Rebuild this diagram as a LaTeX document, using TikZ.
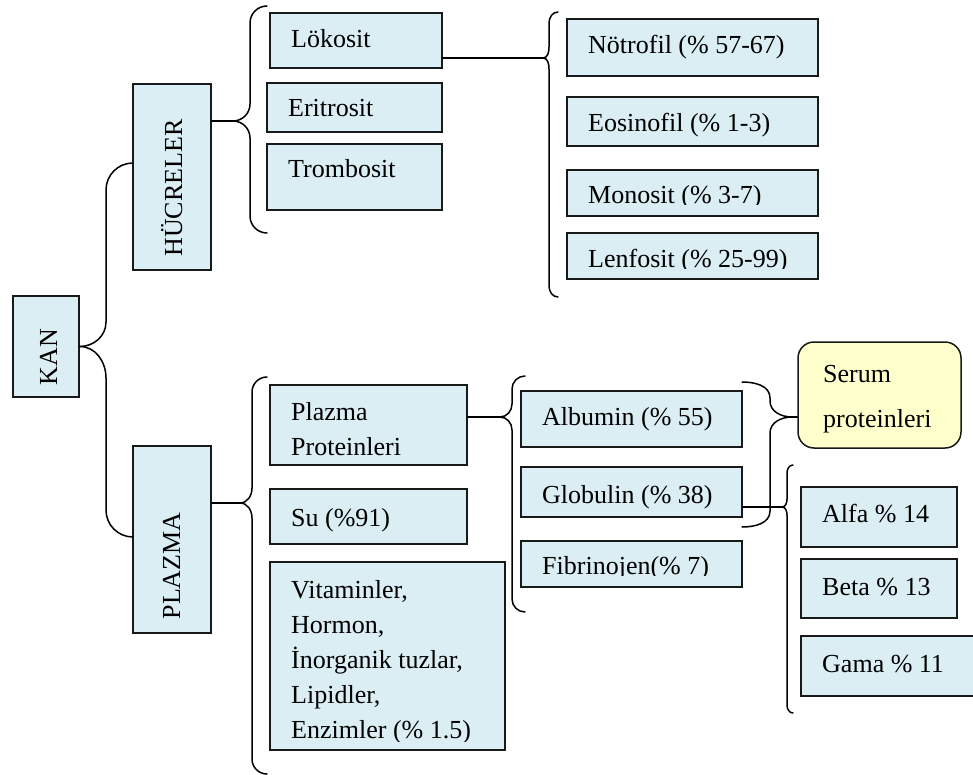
\documentclass[tikz,border=0pt]{standalone}
\usepackage{fontspec}
\setmainfont{Liberation Serif}
\usetikzlibrary{fit}
\definecolor{boxblue}{HTML}{DAEEF3}
\definecolor{boxyellow}{HTML}{FFFFCC}
\tikzset{
  box/.style={draw=black!90, fill=boxblue, line width=1.5pt, inner sep=0pt},
  txt/.style={inner sep=0pt, anchor=base west, font=\fontsize{26}{35}\selectfont},
  conn/.style={line width=1.5pt, line join=round, line cap=round},
}
\newcommand\bx[8]{%
  \coordinate (#1-a) at (#2,#3);
  \coordinate (#1-b) at (#4,#5);
  \node[box, fit=(#1-a)(#1-b)] (#1) {};
  \begin{scope}
    \clip (#2,#3) rectangle (#4,#6);
    \node[txt] (#1-t) at (#2+21,#7) {#8};
  \end{scope}}
% brace opening right: tipx, tipy, spinex, endx, top, bottom, r
\newcommand\brR[7]{%
  \draw[conn] (#4,#5) to[out=180,in=90] (#3,#5+#7) -- (#3,#2-#7)
    to[out=-90,in=0] (#1,#2) to[out=0,in=90] (#3,#2+#7) -- (#3,#6-#7)
    to[out=-90,in=180] (#4,#6);}
\begin{document}
\begin{tikzpicture}[x=1pt,y=-1pt]
\useasboundingbox (0,0) rectangle (973,775);
\clip (0,0) rectangle (973,775);

% level boxes with rotated text
\coordinate (kan-a) at (13,296); \coordinate (kan-b) at (79,397);
\node[box, fit=(kan-a)(kan-b)] (kan) {};
\node[txt, anchor=base, rotate=90] (kan-t) at (57,357) {KAN};

\coordinate (huc-a) at (133,84); \coordinate (huc-b) at (211,270);
\node[box, fit=(huc-a)(huc-b)] (huc) {};
\node[txt, anchor=base, rotate=90] (huc-t) at (182,188) {HÜCRELER};

\coordinate (plz-a) at (133,446); \coordinate (plz-b) at (211,633);
\node[box, fit=(plz-a)(plz-b)] (plz) {};
\node[txt, anchor=base, rotate=90] (plz-t) at (180,566) {PLAZMA};

% cells
\bx{lok}{270}{13}{442}{68}{68}{48}{Lökosit}
\bx{eri}{267}{83}{442}{132}{132}{117}{Eritrosit}
\bx{tro}{267}{144}{442}{210}{210}{178}{Trombosit}
\bx{not}{567}{19}{818}{76}{76}{54}{Nötrofil (\% 57-67)}
\bx{eos}{567}{97}{818}{146}{146}{132}{Eosinofil (\% 1-3)}
\bx{mon}{567}{170}{818}{216}{205}{204}{Monosit (\% 3-7)}
\bx{len}{567}{233}{818}{279}{269}{268}{Lenfosit (\% 25-99)}

% plasma
\bx{pp}{270}{385}{467}{465}{465}{420}{\vtop{\baselineskip=35pt\hbox{Plazma}\hbox{Proteinleri}}}
\bx{su}{270}{489}{467}{544}{544}{526}{Su (\%91)}
\bx{vit}{270}{562}{505}{750}{741}{598}{\vtop{\baselineskip=35pt\hbox{Vitaminler,}\hbox{Hormon,}\hbox{İnorganik tuzlar,}\hbox{Lipidler,}\hbox{Enzimler (\% 1.5)}}}
\bx{alb}{521}{391}{742}{447}{447}{425}{Albumin (\% 55)}
\bx{glo}{521}{467}{742}{517}{517}{503}{Globulin (\% 38)}
\bx{fib}{521}{541}{742}{587}{575}{574}{Fibrinojen(\% 7)}
\bx{alf}{801}{487}{957}{547}{547}{522}{Alfa \% 14}
\bx{bet}{801}{559}{957}{618}{618}{595}{Beta \% 13}
\bx{gam}{801}{636}{1010}{696}{696}{672}{Gama \% 11}

\coordinate (ser-a) at (798,342); \coordinate (ser-b) at (961,448);
\node[box, fill=boxyellow, rounded corners=16pt, fit=(ser-a)(ser-b)] (ser) {};
\node[txt] (ser-t) at (823,382) {\vtop{\baselineskip=45pt\hbox{Serum}\hbox{proteinleri}}};

% KAN connectors
\coordinate (hucIn) at (133,163);
\coordinate (plzIn) at (133,537);
\draw[conn] (kan.east) to[out=0,in=-90] (106,322) -- (106,190) to[out=90,in=180] (hucIn);
\draw[conn] (kan.east) to[out=0,in=90] (106,378) -- (106,510) to[out=-90,in=180] (plzIn);

% braces
\coordinate (tipH) at (233,121);
\draw[conn] (huc.east |- tipH) -- (tipH);
\brR{233}{121}{250}{267}{6}{233}{17}

\coordinate (tipL) at (543,58);
\draw[conn] (lok.east |- tipL) -- (tipL);
\brR{543}{58}{549}{558}{12}{297}{11}

\coordinate (tipP) at (240,503);
\draw[conn] (plz.east |- tipP) -- (tipP);
\brR{240}{503}{252}{267}{377}{774}{15}

\coordinate (tipPP) at (500,417);
\draw[conn] (pp.east |- tipPP) -- (tipPP);
\brR{500}{417}{512}{525}{376}{612}{13}

\coordinate (tipG) at (782,507);
\draw[conn] (glo.east |- tipG) -- (tipG);
\brR{782}{507}{787}{793}{465}{713}{8}

% serum brace (opening left)
\coordinate (tipS) at (792,417);
\draw[conn] (742,382) to[out=0,in=90] (770,398) -- (770,401) to[out=-90,in=180] (tipS)
  to[out=180,in=90] (770,433) -- (770,511) to[out=-90,in=0] (742,527);
\draw[conn] (tipS) -- (ser.west |- tipS);
\end{tikzpicture}
\end{document}
